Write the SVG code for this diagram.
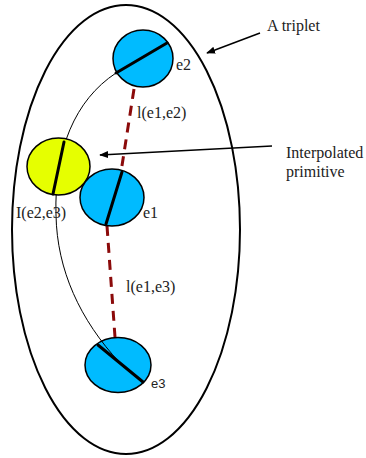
<svg xmlns="http://www.w3.org/2000/svg" width="366" height="458" viewBox="0 0 366 458">
<style>
.lbl{font-family:'Liberation Serif','Times New Roman',serif;font-size:16px;fill:#222}
.sans{font-family:'Liberation Sans',Arial,sans-serif;font-size:13px;fill:#222}
.prim{stroke:#000;stroke-width:1.5}
.blue{fill:#00BBFF}
.yel{fill:#E6FF00}
.bar{stroke:#000;stroke-width:3;stroke-linecap:round}
.dash{stroke:#8B0A0A;stroke-width:3;stroke-dasharray:10 7;fill:none}
.arr{stroke:#000;stroke-width:1.5;fill:none;marker-end:url(#ah)}
</style>
<defs>
<marker id="ah" viewBox="0 0 10 8" refX="9" refY="4" markerWidth="6" markerHeight="5" orient="auto" markerUnits="strokeWidth">
<path d="M0,0 L10,4 L0,8 z" fill="#000"/>
</marker>
</defs>
<rect width="366" height="458" fill="#fff"/>
<g id="triplet">
<ellipse cx="126" cy="229.5" rx="114" ry="224.5" fill="none" stroke="#000" stroke-width="2"/>
<text class="lbl" font-family="Liberation Serif, serif" x="267" y="31">A triplet</text>
</g>
<g id="e3">
<ellipse class="prim blue" cx="118" cy="365" rx="33" ry="27.5"/>
<line class="bar" x1="98" y1="345" x2="143" y2="382"/>
<text class="sans" font-family="Liberation Sans, sans-serif" x="151" y="388">e3</text>
</g>
<g id="connectors">
<path d="M116,73 C75,100 54,150 56,215 C57,270 80,320 120,363" fill="none" stroke="#000" stroke-width="1"/>
<line class="dash" x1="134" y1="89" x2="121" y2="172"/>
<line class="dash" x1="107" y1="226" x2="115" y2="337"/>
<line class="arr" x1="260" y1="33" x2="207" y2="53"/>
<line class="arr" x1="272" y1="146" x2="100" y2="155"/>
</g>
<g id="interp">
<ellipse class="prim yel" cx="58.5" cy="166.5" rx="31.5" ry="28.5"/>
<line class="bar" x1="64" y1="142" x2="53" y2="194"/>
<text class="lbl" font-family="Liberation Serif, serif" x="16" y="218">I(e2,e3)</text>
</g>
<g id="e1">
<ellipse class="prim blue" cx="112" cy="197.5" rx="32" ry="28.5"/>
<line class="bar" x1="122" y1="172" x2="106" y2="224"/>
<text class="lbl" font-family="Liberation Serif, serif" x="143" y="218">e1</text>
</g>
<g id="e2">
<ellipse class="prim blue" cx="143" cy="58.5" rx="30" ry="28.5"/>
<line class="bar" x1="116" y1="73" x2="167" y2="43"/>
<text class="lbl" font-family="Liberation Serif, serif" x="176" y="70">e2</text>
</g>
<g id="labels" font-family="Liberation Serif, serif">
<text class="lbl" font-family="Liberation Serif, serif" x="137" y="118">l(e1,e2)</text>
<text class="lbl" font-family="Liberation Serif, serif" x="126" y="292">l(e1,e3)</text>
<text class="lbl" font-family="Liberation Serif, serif" x="286" y="158">Interpolated</text>
<text class="lbl" font-family="Liberation Serif, serif" x="286" y="177">primitive</text>
</g>
</svg>
